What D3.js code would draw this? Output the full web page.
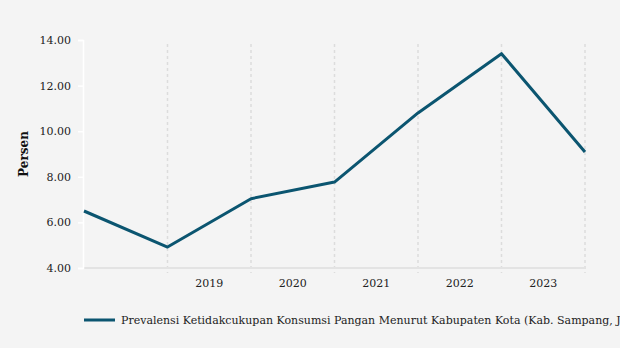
<!DOCTYPE html>
<html>
<head>
<meta charset="utf-8">
<script src="https://cdn.jsdelivr.net/npm/d3@7"></script>
<style>
  html, body { margin: 0; padding: 0; background: #f4f4f4; }
  svg { display: block; }
  text { font-family: "DejaVu Serif", serif; }
</style>
</head>
<body>
<svg id="chart" width="620" height="348"></svg>
<script>
// Series values, one per point along the x axis
const pointIndex = [0, 1, 2, 3, 4, 5, 6];
const seriesValues = [6.50, 4.92, 7.04, 7.77, 10.80, 13.40, 9.09];
const seriesName = "Prevalensi Ketidakcukupan Konsumsi Pangan Menurut Kabupaten Kota (Kab. Sampang, Jawa Timur)";
// Year labels, each sitting between two neighbouring gridlines
const yearLabels = ["2019", "2020", "2021", "2022", "2023"];
const yTicks = [4, 6, 8, 10, 12, 14];

const svg = d3.select("#chart");
const plotLeft = 84, plotRight = 585, plotTop = 40, plotBottom = 268;
const lineColor = "#0b5570";

const x = d3.scaleLinear().domain([0, 6]).range([plotLeft, plotRight]);
const y = d3.scaleLinear().domain([4, 14]).range([plotBottom, plotTop]);

// Vertical dashed gridlines
svg.append("g").selectAll("line")
  .data(pointIndex.slice(1))
  .join("line")
  .attr("x1", d => x(d)).attr("x2", d => x(d))
  .attr("y1", plotTop + 4).attr("y2", plotBottom + 5)
  .attr("stroke", "#dcdcdc").attr("stroke-width", 1.5)
  .attr("stroke-dasharray", "3,3");

// x baseline
svg.append("line")
  .attr("x1", plotLeft).attr("x2", plotRight)
  .attr("y1", plotBottom).attr("y2", plotBottom)
  .attr("stroke", "#e3e3e3").attr("stroke-width", 2);

// y axis
const yAxis = d3.axisLeft(y).tickValues(yTicks).tickFormat(d3.format(".2f")).tickSize(5).tickPadding(7);
const gy = svg.append("g").attr("transform", `translate(${plotLeft - 1},0)`).call(yAxis);
gy.select(".domain").attr("stroke", "#ffffff").attr("stroke-width", 1.5);
gy.selectAll(".tick line").attr("stroke", "#ffffff").attr("stroke-width", 1.5);
gy.selectAll(".tick text")
  .attr("font-family", "DejaVu Serif").attr("font-size", 11).attr("fill", "#222");

// Year labels
svg.append("g").selectAll("text")
  .data(yearLabels)
  .join("text")
  .attr("x", (d, i) => (x(i + 1) + x(i + 2)) / 2)
  .attr("y", 287)
  .attr("text-anchor", "middle")
  .attr("font-size", 11).attr("fill", "#222")
  .text(d => d);

// y axis title
svg.append("text")
  .attr("transform", `translate(28,${(plotTop + plotBottom) / 2}) rotate(-90)`)
  .attr("text-anchor", "middle")
  .attr("font-size", 12).attr("font-weight", "bold").attr("fill", "#111")
  .text("Persen");

// Series line
const line = d3.line().x((d, i) => x(pointIndex[i])).y(d => y(d));
svg.append("path")
  .datum(seriesValues)
  .attr("d", line)
  .attr("fill", "none")
  .attr("stroke", lineColor)
  .attr("stroke-width", 3)
  .attr("stroke-linejoin", "round");

// Legend
const lg = svg.append("g").attr("transform", "translate(84,320)");
lg.append("line").attr("x1", 0).attr("x2", 31).attr("y1", 0).attr("y2", 0)
  .attr("stroke", lineColor).attr("stroke-width", 3);
lg.append("text").attr("x", 37).attr("y", 4)
  .attr("font-size", 11).attr("fill", "#222")
  .text(seriesName);
</script>
</body>
</html>
